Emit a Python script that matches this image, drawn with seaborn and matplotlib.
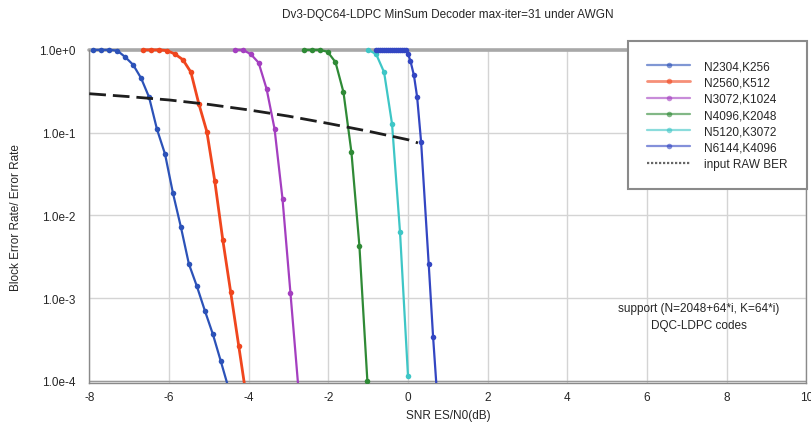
import numpy as np
import pandas as pd
import matplotlib
matplotlib.use("Agg")
import matplotlib.pyplot as plt
from matplotlib.lines import Line2D
from matplotlib.patches import Rectangle
import seaborn as sns

# ---- data: block error rate vs SNR for each (N, K) code ----
snr_n2304 = [-7.9, -7.7, -7.5, -7.3, -7.1, -6.9, -6.7, -6.5, -6.3, -6.1, -5.9,
             -5.7, -5.5, -5.3, -5.1, -4.9, -4.7, -4.5]
bler_n2304 = [1.0, 1.0, 1.0, 0.98, 0.82, 0.66, 0.455, 0.268, 0.109, 0.0552,
              0.0185, 0.00718, 0.00258, 0.00139, 7.05e-4, 3.68e-4, 1.73e-4, 8.0e-5]

snr_n2560 = [-6.65, -6.45, -6.25, -6.05, -5.85, -5.65, -5.45, -5.25, -5.05,
             -4.85, -4.65, -4.45, -4.25, -4.05]
bler_n2560 = [1.0, 1.0, 1.0, 0.98, 0.89, 0.76, 0.537, 0.222, 0.103, 0.0258,
              0.00508, 0.00117, 2.66e-4, 6.0e-5]

snr_n3072 = [-4.35, -4.15, -3.95, -3.75, -3.55, -3.35, -3.15, -2.95, -2.75]
bler_n3072 = [1.0, 1.0, 0.89, 0.70, 0.338, 0.111, 0.0158, 0.00114, 8.0e-5]

snr_n4096 = [-2.62, -2.42, -2.22, -2.02, -1.82, -1.62, -1.42, -1.22, -1.02]
bler_n4096 = [1.0, 1.0, 1.0, 0.95, 0.71, 0.308, 0.058, 0.0043, 1.0e-4]

snr_n5120 = [-1.0, -0.8, -0.6, -0.4, -0.2, 0.0]
bler_n5120 = [1.0, 0.89, 0.537, 0.127, 0.00625, 1.15e-4]

snr_n6144 = [-0.8, -0.75, -0.7, -0.65, -0.6, -0.55, -0.5, -0.45, -0.4, -0.35,
             -0.3, -0.25, -0.2, -0.15, -0.1, -0.05, 0.0, 0.06, 0.15, 0.23,
             0.33, 0.52, 0.63, 0.72]
bler_n6144 = [1.0, 1.0, 1.0, 1.0, 1.0, 1.0, 1.0, 1.0, 1.0, 1.0, 1.0, 1.0, 1.0,
              1.0, 1.0, 1.0, 0.89, 0.74, 0.49, 0.268, 0.0765, 0.00258,
              3.41e-4, 8.0e-5]

snr_raw = [-8, -7, -6, -5, -4, -3, -2, -1, 0, 0.25]
ber_raw = [0.295, 0.272, 0.248, 0.219, 0.188, 0.158, 0.129, 0.104, 0.082, 0.075]

labels = ["N2304,K256", "N2560,K512", "N3072,K1024",
          "N4096,K2048", "N5120,K3072", "N6144,K4096"]
raw_label = "input RAW BER"
colors = ["#2c52b8", "#f0461e", "#a43fc0", "#2f8a36", "#3ec6c6", "#3346c2"]
widths = [1.6, 2.0, 1.6, 1.6, 1.6, 1.6]

x_ticks = [-8, -6, -4, -2, 0, 2, 4, 6, 8, 10]
y_ticks = [1e0, 1e-1, 1e-2, 1e-3, 1e-4]
y_ticklabels = ["1.0e+0", "1.0e-1", "1.0e-2", "1.0e-3", "1.0e-4"]

curves = [(snr_n2304, bler_n2304), (snr_n2560, bler_n2560),
          (snr_n3072, bler_n3072), (snr_n4096, bler_n4096),
          (snr_n5120, bler_n5120), (snr_n6144, bler_n6144)]

sns.set_style("white")
plt.rcParams["font.family"] = ["Liberation Sans", "DejaVu Sans"]

fig = plt.figure(figsize=(8.12, 4.31), dpi=100)
ax = fig.add_axes([0.110, 0.109, 0.883, 0.773])

# clip region lets the markers sitting on the 1.0 line show in full
clip_rect = Rectangle((0, 0), 1, 1.05, transform=ax.transAxes, visible=False)
ax.add_patch(clip_rect)

for (xs, ys), lab, col, lw in zip(curves, labels, colors, widths):
    sns.lineplot(x=xs, y=ys, ax=ax, color=col, linewidth=lw, marker="o",
                 markersize=4, markeredgewidth=0, sort=False,
                 estimator=None, zorder=4)
    ax.lines[-1].set_clip_path(clip_rect)

sns.lineplot(x=snr_raw, y=ber_raw, ax=ax, color="#1e1e1e", linewidth=2.0,
             sort=False, estimator=None, zorder=4)
ax.lines[-1].set_dashes([6, 2.5])

ax.set_yscale("log")
ax.set_xlim(-8, 10)
ax.set_ylim(9.4e-5, 1.0)
ax.set_xticks(x_ticks)
ax.set_xticklabels([str(t) for t in x_ticks], fontsize=8.5)
ax.set_yticks(y_ticks)
ax.set_yticklabels(y_ticklabels, fontsize=8.5)
ax.yaxis.set_minor_locator(matplotlib.ticker.LogLocator(base=10, subs=np.arange(2, 10)))
ax.yaxis.set_minor_formatter(matplotlib.ticker.NullFormatter())
ax.tick_params(axis="y", which="major", direction="in", length=4, color="#666666", pad=10)
ax.tick_params(axis="y", which="minor", direction="in", length=3, color="#666666", width=0.8)
ax.tick_params(axis="x", which="major", length=0, pad=6)

ax.grid(True, which="major", color="#d4d4d4", linewidth=1.0)
ax.set_axisbelow(True)
for side in ["left", "right", "bottom"]:
    ax.spines[side].set_color("#8a8a8a")
    ax.spines[side].set_linewidth(1.0)
ax.spines["top"].set_visible(False)
ax.axhline(1.0, color="#a8a8a8", linewidth=2.6, zorder=2, clip_on=False)
ax.axhline(1e-4, color="#9a9a9a", linewidth=1.0, zorder=1)

ax.set_title("Dv3-DQC64-LDPC MinSum Decoder max-iter=31 under AWGN",
             fontsize=8.5, pad=24)
ax.set_xlabel("SNR ES/N0(dB)", fontsize=8.5, labelpad=4)
ax.set_ylabel("Block Error Rate/ Error Rate", fontsize=8.5, labelpad=12)

ax.text(7.3, 6.0e-4, "support (N=2048+64*i, K=64*i)\nDQC-LDPC codes",
        ha="center", va="center", fontsize=8.5, linespacing=1.5)

# legend keys: faded line-and-dot samples plus a fine dotted key for the raw BER
keys = [Line2D([], [], color=c, linewidth=lw, marker="o", markersize=4,
               markeredgewidth=0, alpha=0.6) for c, lw in zip(colors, widths)]
keys.append(Line2D([], [], color="#666666", linewidth=1.6, linestyle=(0, (1, 0.8))))
leg = ax.legend(keys, labels + [raw_label], loc="upper right",
                bbox_to_anchor=(0.994, 0.903), bbox_transform=fig.transFigure,
                borderaxespad=0, fontsize=8.5, handlelength=3.6,
                handletextpad=1.2, labelspacing=0.36, borderpad=1.65,
                frameon=True, fancybox=False, framealpha=1.0)
leg.get_frame().set_edgecolor("#8a8a8a")
leg.get_frame().set_linewidth(1.5)
leg.set_zorder(10)

fig.savefig("out.png", dpi=100)
